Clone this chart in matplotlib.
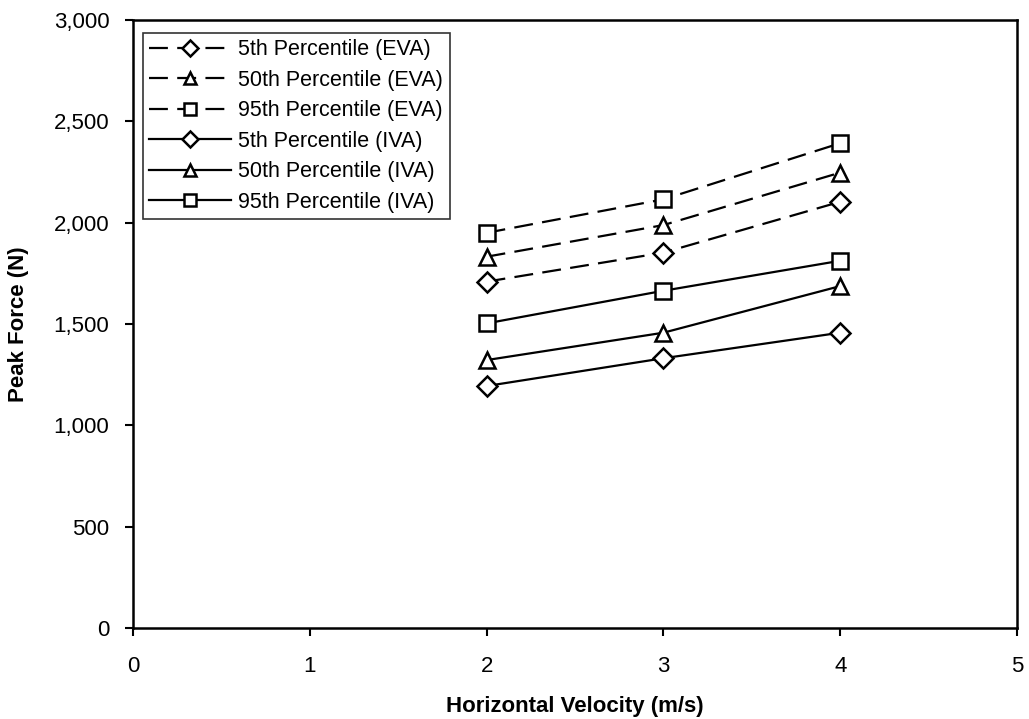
import matplotlib
matplotlib.use("Agg")
import matplotlib.pyplot as plt
from matplotlib.ticker import FuncFormatter

velocity = [2, 3, 4]
eva_5th = [1709, 1852, 2103]
eva_50th = [1832, 1988, 2247]
eva_95th = [1950, 2115, 2392]
iva_5th = [1194, 1331, 1457]
iva_50th = [1322, 1457, 1687]
iva_95th = [1503, 1664, 1812]

labels = ["5th Percentile (EVA)", "50th Percentile (EVA)", "95th Percentile (EVA)",
          "5th Percentile (IVA)", "50th Percentile (IVA)", "95th Percentile (IVA)"]
x_ticks = [0, 1, 2, 3, 4, 5]
y_ticks = [0, 500, 1000, 1500, 2000, 2500, 3000]

plt.rcParams['font.family'] = ['Liberation Sans', 'DejaVu Sans']

fig = plt.figure(figsize=(10.29, 7.19), dpi=100)
ax = fig.add_axes([133/1029, 1-628/719, (1017-133)/1029, (628-20)/719])

series = [(eva_5th, 'D', 'dashed'), (eva_50th, '^', 'dashed'), (eva_95th, 's', 'dashed'),
          (iva_5th, 'D', 'solid'), (iva_50th, '^', 'solid'), (iva_95th, 's', 'solid')]
ms = {'D': 10, '^': 11, 's': 11}
for (vals, mk, ls), lab in zip(series, labels):
    kw = dict(color='black', lw=1.6, marker=mk, markersize=ms[mk],
              markerfacecolor='white', markeredgecolor='black', markeredgewidth=1.8,
              label=lab)
    if ls == 'dashed':
        line, = ax.plot(velocity, vals, linestyle='--', **kw)
        line.set_dashes((8.5, 4.2))
    else:
        ax.plot(velocity, vals, linestyle='-', **kw)

ax.set_xlim(0, 5)
ax.set_ylim(0, 3000)
ax.set_xticks(x_ticks)
ax.set_yticks(y_ticks)
ax.yaxis.set_major_formatter(FuncFormatter(lambda v, p: f"{int(v):,}"))
ax.tick_params(direction='out', length=6, width=1.5, colors='black', labelsize=16)
ax.tick_params(axis='y', pad=11)
ax.tick_params(axis='x', pad=14)
for s in ax.spines.values():
    s.set_linewidth(1.8)
    s.set_color('black')

ax.set_xlabel("Horizontal Velocity (m/s)", fontsize=16, fontweight='bold', labelpad=14)
ax.set_ylabel("Peak Force (N)", fontsize=16, fontweight='bold', labelpad=18)

leg = ax.legend(loc='upper left', bbox_to_anchor=(10/884, (628-33)/608), borderaxespad=0,
                fontsize=15.5, frameon=True, fancybox=False, edgecolor='black',
                handlelength=3.8, labelspacing=0.44, handletextpad=0.33, borderpad=0.3,
                markerscale=0.8)
leg.get_frame().set_linewidth(1.2)

fig.savefig("out.png", dpi=100)
